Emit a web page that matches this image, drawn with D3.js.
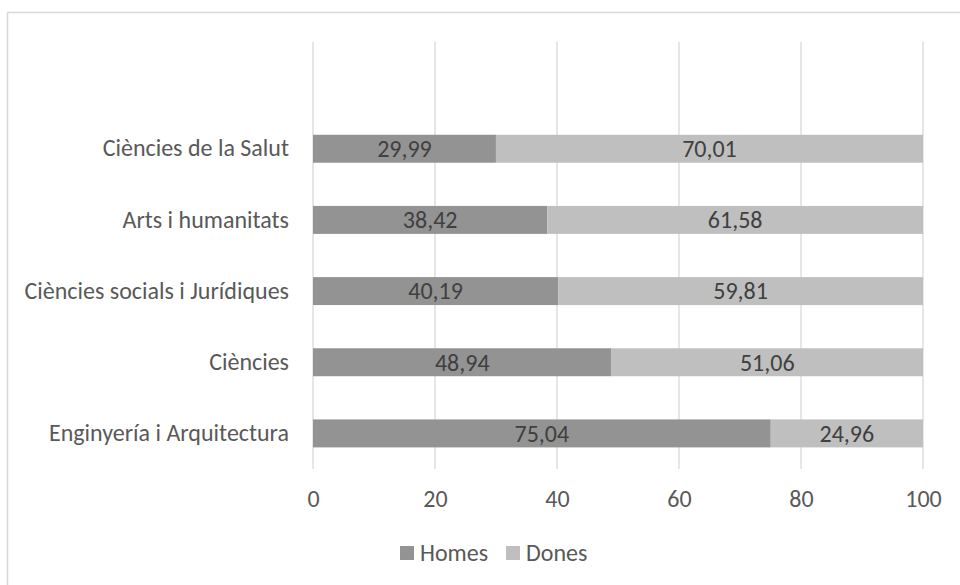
<!DOCTYPE html>
<html>
<head>
<meta charset="utf-8">
<script src="https://cdn.jsdelivr.net/npm/d3@7"></script>
<style>
  html, body { margin: 0; padding: 0; background: #fff; }
  svg { display: block; }
  svg text { font-family: Carlito, "Open Sans", "Noto Sans", sans-serif; }
</style>
</head>
<body>
<svg id="chart" width="960" height="585"></svg>
<script>
// Percentage of men and women by field of study
const categories = [
  "Ciències de la Salut",
  "Arts i humanitats",
  "Ciències socials i Jurídiques",
  "Ciències",
  "Enginyería i Arquitectura"
];
const homes = [29.99, 38.42, 40.19, 48.94, 75.04];
const dones = [70.01, 61.58, 59.81, 51.06, 24.96];
const seriesNames = ["Homes", "Dones"];
const xTicks = [0, 20, 40, 60, 80, 100];

const colors = { Homes: "#939393", Dones: "#bfbfbf" };
const textColor = "#595959";
const labelColor = "#404040";
const gridColor = "#d9d9d9";

const svg = d3.select("#chart");
const W = 960, H = 585;
const fontSize = 24;

// Chart frame (only top and left edges fall inside the view)
svg.append("rect")
  .attr("x", 7.5).attr("y", 12.5)
  .attr("width", W + 20).attr("height", H + 20)
  .attr("fill", "none").attr("stroke", gridColor).attr("stroke-width", 1.5);

const plot = { left: 313, right: 923, top: 42, bottom: 469 };

const x = d3.scaleLinear().domain([0, 100]).range([plot.left, plot.right]);

// One empty slot above the first category, as in the source table
const slots = ["", ...categories];
const y = d3.scaleBand()
  .domain(slots)
  .range([plot.top, plot.bottom])
  .paddingInner(0.607)
  .paddingOuter(0.3035);

// Vertical gridlines
svg.append("g").selectAll("line")
  .data(xTicks)
  .join("line")
  .attr("x1", d => x(d)).attr("x2", d => x(d))
  .attr("y1", plot.top).attr("y2", plot.bottom)
  .attr("stroke", gridColor).attr("stroke-width", 1.3);

// Stacked data
const rows = categories.map((c, i) => ({ cat: c, Homes: homes[i], Dones: dones[i] }));
const stacked = d3.stack().keys(seriesNames)(rows);

const fmt = d3.formatLocale({ decimal: ",", thousands: ".", grouping: [3], currency: ["", "€"] }).format(".2f");

const layers = svg.append("g").selectAll("g")
  .data(stacked)
  .join("g")
  .attr("fill", d => colors[d.key]);

layers.selectAll("rect")
  .data(d => d)
  .join("rect")
  .attr("x", d => x(d[0]))
  .attr("width", d => x(d[1]) - x(d[0]))
  .attr("y", d => y(d.data.cat))
  .attr("height", y.bandwidth());

// Value labels centred in each segment
layers.selectAll("text")
  .data(d => d.map(s => ({ s, key: d.key })))
  .join("text")
  .attr("x", d => (x(d.s[0]) + x(d.s[1])) / 2)
  .attr("y", d => y(d.s.data.cat) + y.bandwidth() / 2)
  .attr("dy", "0.35em")
  .attr("text-anchor", "middle")
  .attr("fill", labelColor)
  .attr("font-size", fontSize)
  .text(d => fmt(d.s[1] - d.s[0]));

// Category axis labels
const yAxis = d3.axisLeft(y).tickSize(0).tickPadding(24)
  .tickValues(categories);
const gy = svg.append("g").attr("transform", `translate(${plot.left},0)`).call(yAxis)
  .attr("font-family", null).attr("font-size", fontSize);
gy.select(".domain").remove();
gy.selectAll("text").attr("fill", textColor);

// Value axis labels
const xAxis = d3.axisBottom(x).tickValues(xTicks).tickSize(0).tickPadding(21);
const gx = svg.append("g").attr("transform", `translate(0,${plot.bottom})`).call(xAxis)
  .attr("font-family", null).attr("font-size", fontSize);
gx.select(".domain").remove();
gx.selectAll("text").attr("fill", textColor);

// Legend
const legend = svg.append("g").attr("transform", "translate(400,553)");
const legendX = [0, 106];
seriesNames.forEach((name, i) => {
  const g = legend.append("g").attr("transform", `translate(${legendX[i]},0)`);
  g.append("rect").attr("x", 0).attr("y", -7).attr("width", 14).attr("height", 14)
    .attr("fill", colors[name]);
  g.append("text").attr("x", 20).attr("dy", "0.35em")
    .attr("fill", textColor).attr("font-size", fontSize).text(name);
});
</script>
</body>
</html>
